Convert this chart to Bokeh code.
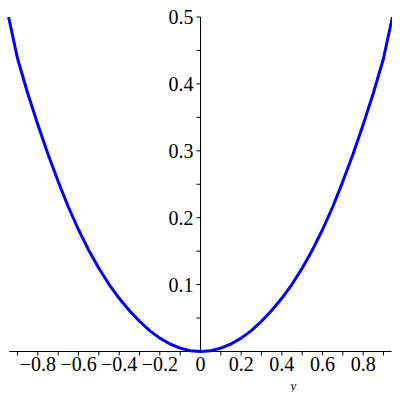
from bokeh.plotting import figure
from bokeh.embed import file_html
from bokeh.resources import INLINE
from bokeh.models import Range1d
from bokeh.core.properties import value
import math

# curve values (symmetric about 0)
xs_right = [0.0, 0.05, 0.1, 0.15, 0.2, 0.25, 0.3, 0.35, 0.4, 0.45, 0.5,
            0.55, 0.6, 0.65, 0.7, 0.75, 0.8, 0.85, 0.9, 0.944]
ys_right = [0.0, 0.0012, 0.005, 0.0112, 0.0200, 0.0312, 0.0452, 0.0612, 0.0795, 0.1005, 0.1245,
            0.1515, 0.1820, 0.2160, 0.2540, 0.2950, 0.3390, 0.3860, 0.4380, 0.5]
xs = [-v for v in xs_right[:0:-1]] + xs_right
ys = ys_right[:0:-1] + ys_right

x_ticks = [-0.9, -0.8, -0.7, -0.6, -0.5, -0.4, -0.3, -0.2, -0.1, 0.1, 0.2, 0.3, 0.4, 0.5, 0.6, 0.7, 0.8, 0.9]
x_label_vals = [-0.8, -0.6, -0.4, -0.2, 0.0, 0.2, 0.4, 0.6, 0.8]
x_labels = ["\u22120.8", "\u22120.6", "\u22120.4", "\u22120.2", "0", "0.2", "0.4", "0.6", "0.8"]
y_ticks = [0.05, 0.1, 0.15, 0.2, 0.25, 0.3, 0.35, 0.4, 0.45, 0.5]
y_label_vals = [0.1, 0.2, 0.3, 0.4, 0.5]
y_labels = ["0.1", "0.2", "0.3", "0.4", "0.5"]
x_extent = [-0.94, 0.94]
y_extent = [0.0, 0.5]

p = figure(width=392, height=392, output_backend="svg", toolbar_location=None,
           x_range=Range1d(-0.9838, 0.9444), y_range=Range1d(-0.0613, 0.5247),
           min_border=0)
p.axis.visible = False
p.grid.visible = False
p.outline_line_color = None

# axes lines
p.line(x=x_extent, y=[0, 0], line_color="black", line_width=1)
p.line(x=[0, 0], y=y_extent, line_color="black", line_width=1)

# ticks
p.ray(x=x_ticks, y=[0] * len(x_ticks), length=4, angle=-math.pi / 2, length_units="screen",
      line_color="black", line_width=1)
p.ray(x=[0] * len(y_ticks), y=y_ticks, length=4, angle=math.pi, length_units="screen",
      line_color="black", line_width=1)

# curve
p.line(x=xs, y=ys, line_color="#0000ff", line_width=3, line_join="round")

font = value("Liberation Serif")
p.text(x=x_label_vals, y=[0] * len(x_label_vals), text=x_labels, y_offset=13,
       text_align="center", text_baseline="middle", text_font=font,
       text_font_size="20px", text_color="black")
p.text(x=[0] * len(y_label_vals), y=y_label_vals, text=y_labels, x_offset=-7,
       text_align="right", text_baseline="middle", text_font=font,
       text_font_size="20px", text_color="black")
p.text(x=[0.457], y=[-0.0505], text=["y"], text_align="center", text_baseline="middle",
       text_font=font, text_font_style="italic", text_font_size="13px", text_color="black")

open("out.html", "w").write(file_html(p, INLINE))
